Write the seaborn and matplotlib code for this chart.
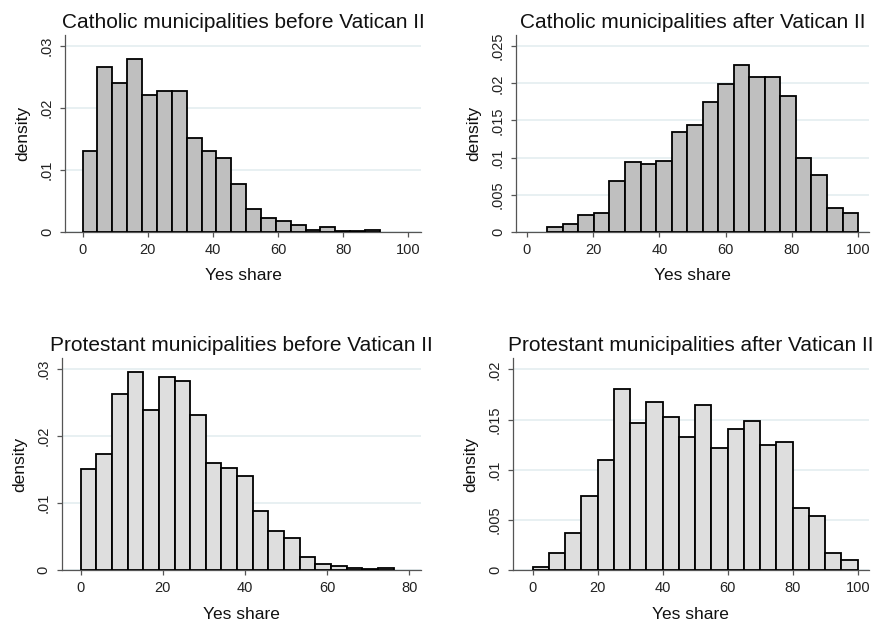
import numpy as np
import pandas as pd
import seaborn as sns
import matplotlib.pyplot as plt
from matplotlib.ticker import FuncFormatter

sns.set_theme(style="white")
plt.rcParams['font.family'] = ['Liberation Sans', 'DejaVu Sans']

# bin heights (density), 20 bins per panel
cath_before = [0.0131, 0.0267, 0.0241, 0.0279, 0.0221, 0.0227, 0.0227, 0.0152,
               0.0131, 0.0119, 0.0077, 0.0037, 0.0023, 0.0018, 0.0011, 0.0004,
               0.0008, 0.0002, 0.0002, 0.0004]
cath_after = [0.0007, 0.0011, 0.0023, 0.0026, 0.0069, 0.0094, 0.0091, 0.0095,
              0.0134, 0.0144, 0.0175, 0.0199, 0.0225, 0.0209, 0.0209, 0.0183,
              0.0100, 0.0077, 0.0032, 0.0026]
prot_before = [0.0151, 0.0174, 0.0263, 0.0296, 0.0239, 0.0288, 0.0282, 0.0232,
               0.0160, 0.0152, 0.0140, 0.0088, 0.0059, 0.0048, 0.0020, 0.0010,
               0.0006, 0.0004, 0.0002, 0.0004]
prot_after = [0.0003, 0.0017, 0.0037, 0.0074, 0.0110, 0.0180, 0.0147, 0.0167,
              0.0153, 0.0133, 0.0164, 0.0122, 0.0141, 0.0149, 0.0125, 0.0128,
              0.0062, 0.0054, 0.0017, 0.0010]

# bin ranges (first edge, last edge)
cath_before_range = (0.0, 91.3)
cath_after_range = (6.15, 100.0)
prot_before_range = (0.0, 76.2)
prot_after_range = (0.0, 100.0)

titles = ["Catholic municipalities before Vatican II",
          "Catholic municipalities after Vatican II",
          "Protestant municipalities before Vatican II",
          "Protestant municipalities after Vatican II"]

yticks_list = [[0, 0.01, 0.02, 0.03],
               [0, 0.005, 0.01, 0.015, 0.02, 0.025],
               [0, 0.01, 0.02, 0.03],
               [0, 0.005, 0.01, 0.015, 0.02]]
xticks_list = [[0, 20, 40, 60, 80, 100],
               [0, 20, 40, 60, 80, 100],
               [0, 20, 40, 60, 80],
               [0, 20, 40, 60, 80, 100]]

panels = [
    (cath_before, cath_before_range, "#bfbfbf", [0.0744, 0.6294, 0.4073, 0.3147], (-5.4, 103.9), 0.0318),
    (cath_after, cath_after_range, "#bfbfbf", [0.5904, 0.6294, 0.4039, 0.3147], (-3.3, 103.3), 0.0265),
    (prot_before, prot_before_range, "#dedede", [0.0709, 0.0890, 0.4104, 0.3387], (-4.55, 82.8), 0.0316),
    (prot_after, prot_after_range, "#dedede", [0.5870, 0.0890, 0.4070, 0.3387], (-6.06, 103.4), 0.0211),
]


def stata_fmt(v, pos):
    if abs(v) < 1e-12:
        return "0"
    s = f"{v:.3f}".rstrip("0")
    return s[1:] if s.startswith("0") else s


fig = plt.figure(figsize=(8.74, 6.26), dpi=100)

for i, (heights, rng, col, rect, xlim, ytop) in enumerate(panels):
    ax = fig.add_axes(rect)
    edges = np.linspace(rng[0], rng[1], len(heights) + 1)
    df = pd.DataFrame({"x": (edges[:-1] + edges[1:]) / 2, "w": heights})
    sns.histplot(data=df, x="x", weights="w", bins=list(edges), ax=ax,
                 color=col, edgecolor="black", linewidth=1.3, alpha=1,
                 zorder=3)
    ax.set_xlim(xlim)
    ax.set_ylim(0, ytop)
    ax.set_yticks(yticks_list[i])
    ax.set_xticks(xticks_list[i])
    ax.yaxis.set_major_formatter(FuncFormatter(stata_fmt))
    ax.grid(axis="y", color="#e6eff1", linewidth=1.3, zorder=0)
    ax.grid(axis="x", visible=False)
    ax.set_axisbelow(True)
    for s in ["top", "right"]:
        ax.spines[s].set_visible(False)
    for s in ["left", "bottom"]:
        ax.spines[s].set_color("#555555")
        ax.spines[s].set_linewidth(0.9)
    ax.tick_params(axis="both", which="major", direction="out", length=3.5,
                   width=0.9, color="#555555", labelsize=10.5, pad=4.5,
                   labelcolor="#222222", bottom=True, left=True)
    for lab in ax.get_yticklabels():
        lab.set_rotation(90)
        lab.set_va("center")
    ax.set_xlabel("Yes share", fontsize=12.5, labelpad=8, color="#111111")
    ax.set_ylabel("density", fontsize=12.5, labelpad=7, color="#111111")
    ax.set_title(titles[i], fontsize=15, pad=5, color="#111111")

plt.savefig("out.png", dpi=100)
